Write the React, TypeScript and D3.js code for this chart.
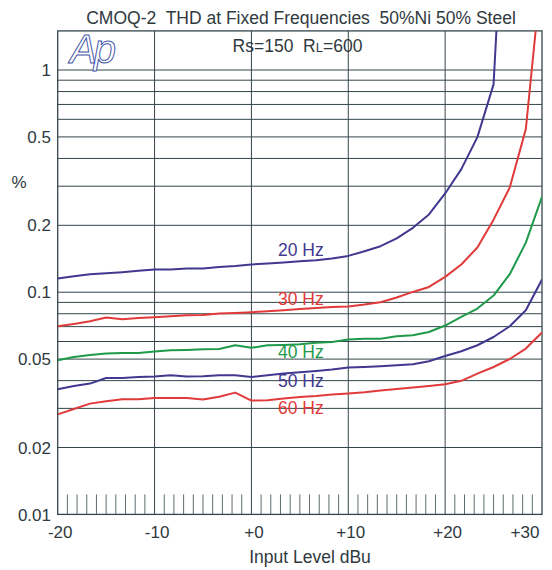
import React from "react";
import * as d3 from "d3";

const W = 552;
const H = 570;

// Sweep steps (dBu)
const levels = [
  -20, -18.33, -16.67, -15, -13.33, -11.67, -10, -8.33, -6.67, -5, -3.33, -1.67,
  0, 1.67, 3.33, 5, 6.67, 8.33, 10, 11.67, 13.33, 15, 16.67, 18.33, 20, 21.67,
  23.33, 25, 26.67, 28.33, 30,
];

// THD (%) per frequency
const thd20 = [
  0.1152, 0.118, 0.1205, 0.1218, 0.1231, 0.1248, 0.1265, 0.1265, 0.1278, 0.1278,
  0.13, 0.1313, 0.1333, 0.1347, 0.1361, 0.1379, 0.1393, 0.1418, 0.1457, 0.153,
  0.1611, 0.1746, 0.1949, 0.2239, 0.2783, 0.358, 0.499, 0.862, 20,
];
const thd30 = [
  0.0703, 0.072, 0.074, 0.0769, 0.0755, 0.0766, 0.0772, 0.078, 0.0788, 0.079,
  0.0802, 0.0807, 0.0813, 0.0821, 0.083, 0.0841, 0.085, 0.0859, 0.0862, 0.088,
  0.0902, 0.0946, 0.1003, 0.1056, 0.1172, 0.1333, 0.159, 0.2121, 0.2962, 0.542,
  2.9,
];
const thd40 = [
  0.0494, 0.0511, 0.0522, 0.053, 0.0533, 0.0533, 0.0541, 0.0548, 0.055, 0.0554,
  0.0555, 0.0577, 0.0562, 0.0577, 0.0579, 0.0583, 0.0593, 0.0597, 0.0612, 0.0618,
  0.0618, 0.0633, 0.064, 0.0662, 0.0708, 0.0774, 0.0844, 0.0966, 0.1205, 0.1671,
  0.2687,
];
const thd50 = [
  0.03655, 0.03783, 0.03879, 0.04111, 0.04111, 0.04154, 0.04171, 0.04227, 0.04171,
  0.04184, 0.04227, 0.04227, 0.04154, 0.04227, 0.04303, 0.04361, 0.0442, 0.04485,
  0.04579, 0.04607, 0.04641, 0.0469, 0.04739, 0.04889, 0.05163, 0.05422, 0.05771,
  0.06287, 0.07026, 0.083, 0.1141,
];
const thd60 = [
  0.02821, 0.0298, 0.03152, 0.03228, 0.03296, 0.03296, 0.03341, 0.03341, 0.03341,
  0.03286, 0.03383, 0.03533, 0.03252, 0.03262, 0.0332, 0.03376, 0.03411, 0.03461,
  0.03497, 0.03544, 0.03607, 0.03667, 0.03721, 0.03783, 0.03851, 0.03993, 0.04303,
  0.04607, 0.05006, 0.05577, 0.06583,
];

const seriesNames = ["20 Hz", "30 Hz", "40 Hz", "50 Hz", "60 Hz"];
const seriesValues = [thd20, thd30, thd40, thd50, thd60];
const seriesColors = ["#41388f", "#e03a3a", "#1f9a4a", "#41388f", "#e03a3a"];
// label anchor: [dBu, % value at text baseline]
const labelPos: [number, number][] = [
  [2.75, 0.1453],
  [2.75, 0.0874],
  [2.75, 0.0504],
  [2.75, 0.0373],
  [2.75, 0.0282],
];

const yTickValues = [1, 0.5, 0.2, 0.1, 0.05, 0.02, 0.01];
const yTickLabels = ["1", "0.5", "0.2", "0.1", "0.05", "0.02", "0.01"];
const yGridValues = [
  0.02, 0.03, 0.04, 0.05, 0.06, 0.07, 0.08, 0.09, 0.1, 0.2, 0.3, 0.4, 0.5, 0.6, 0.7,
  0.8, 0.9, 1,
];
const xTickValues = [-20, -10, 0, 10, 20, 30];
const xTickLabels = ["-20", "-10", "+0", "+10", "+20", "+30"];
const xGridValues = [-10, 0, 10, 20];
const xMinorValues = d3.range(-19, 30).filter((v) => v % 10 !== 0);

const FONT = "'Liberation Sans', Arial, Helvetica, sans-serif";

export default function App() {
  const left = 57.7;
  const right = 542;
  const top = 30.9;
  const bottom = 514.4;
  const x = d3.scaleLinear().domain([-20, 30]).range([left, right]);
  const y = d3.scaleLog().domain([0.01, 1.5]).range([bottom, top]);

  const line = d3
    .line<number>()
    .x((_, i) => x(levels[i]))
    .y((d) => y(d));

  const gridColor = "#34454b";
  const textColor = "#2f393e";
  const fs = 17;

  return (
    <svg
      width={W}
      height={H}
      style={{ position: "absolute", left: 0, top: 0, display: "block", background: "#fff" }}
      fontFamily={FONT}
    >
      <defs>
        <clipPath id="plotClip">
          <rect x={left} y={top} width={right - left} height={bottom - top} />
        </clipPath>
      </defs>
      <rect x={0} y={0} width={W} height={H} fill="#fff" />

      {/* horizontal grid */}
      {yGridValues.map((v) => (
        <line key={"hg" + v} x1={left} x2={right} y1={y(v)} y2={y(v)} stroke={gridColor} strokeWidth={1} />
      ))}
      {/* vertical grid */}
      {xGridValues.map((v) => (
        <line key={"vg" + v} x1={x(v)} x2={x(v)} y1={top} y2={bottom} stroke={gridColor} strokeWidth={1} />
      ))}
      {/* minor ticks at bottom */}
      {xMinorValues.map((v) => (
        <line key={"mt" + v} x1={x(v)} x2={x(v)} y1={bottom - 20} y2={bottom} stroke="#5f6c71" strokeWidth={1} />
      ))}

      {/* frame */}
      <rect x={left} y={top} width={right - left} height={bottom - top} fill="none" stroke={gridColor} strokeWidth={1.3} />

      {/* curves */}
      <g clipPath="url(#plotClip)">
        {seriesValues.map((vals, k) => (
          <path key={"s" + k} d={line(vals) || ""} fill="none" stroke={seriesColors[k]} strokeWidth={2} strokeLinejoin="round" />
        ))}
      </g>

      {/* series labels */}
      {seriesNames.map((name, k) => (
        <text key={"lab" + k} x={x(labelPos[k][0])} y={y(labelPos[k][1])} fontSize={17.5} fill={seriesColors[k]}>
          {name}
        </text>
      ))}

      {/* y tick labels */}
      {yTickValues.map((v, i) => (
        <text key={"yt" + v} x={51} y={y(v)} dy="0.36em" fontSize={fs} textAnchor="end" fill={textColor}>
          {yTickLabels[i]}
        </text>
      ))}
      <text x={19} y={182} dy="0.36em" fontSize={fs} textAnchor="middle" fill={textColor}>
        %
      </text>

      {/* x tick labels */}
      {xTickValues.map((v, i) => (
        <text
          key={"xt" + v}
          x={i === xTickValues.length - 1 ? x(v) - 17 : x(v) + 2.5}
          y={537.5}
          fontSize={fs}
          textAnchor="middle"
          fill={textColor}
        >
          {xTickLabels[i]}
        </text>
      ))}
      <text x={310} y={563} fontSize={17.5} textAnchor="middle" fill={textColor}>
        Input Level dBu
      </text>

      {/* titles */}
      <text x={301} y={24} fontSize={17.5} textAnchor="middle" fill={textColor} style={{ whiteSpace: "pre" }}>
        {"CMOQ-2  THD at Fixed Frequencies  50%Ni 50% Steel"}
      </text>
      <text x={297.5} y={51.5} fontSize={17.5} textAnchor="middle" fill={textColor} style={{ whiteSpace: "pre" }}>
        {"Rs=150  R"}
        <tspan fontSize={13}>L</tspan>
        {"=600"}
      </text>

      {/* Ap logo */}
      <text
        x={70}
        y={62.5}
        fontSize={40}
        fontStyle="italic"
        fill="#fff"
        stroke="#4656a8"
        strokeWidth={1}
        letterSpacing={-3}
      >
        Ap
      </text>
    </svg>
  );
}
